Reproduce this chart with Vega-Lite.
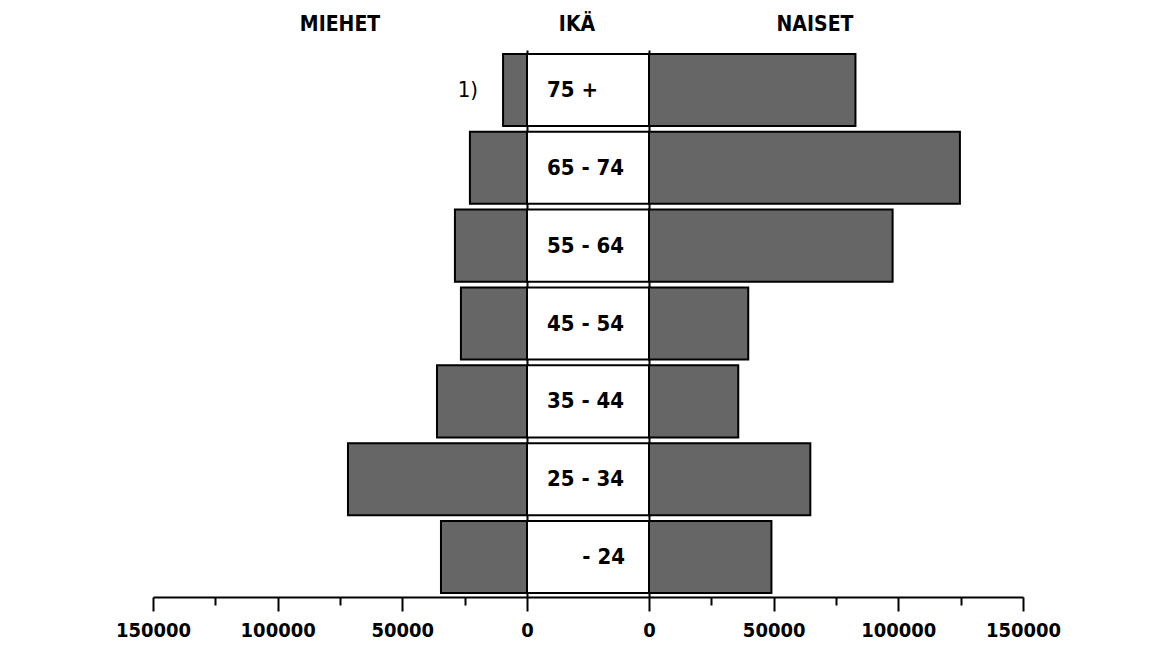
{
  "$schema": "https://vega.github.io/schema/vega-lite/v6.json",
  "background": "white",
  "padding": {"left": 115, "top": 14, "right": 0, "bottom": 0},
  "bounds": "flush",
  "spacing": 0,
  "config": {
    "view": {"stroke": null},
    "font": "DejaVu Sans Condensed, Liberation Sans Narrow, Liberation Sans, sans-serif",
    "axis": {
      "domainColor": "black", "domainWidth": 2, "tickColor": "black", "tickWidth": 2,
      "labelColor": "black", "labelFont": "DejaVu Sans Condensed, Liberation Sans Narrow, Liberation Sans, sans-serif", "labelFontSize": 20,
      "labelFontWeight": "bold", "grid": false, "title": null, "labelFlush": false, "labelOverlap": false
    },
    "title": {"font": "DejaVu Sans Condensed, Liberation Sans Narrow, Liberation Sans, sans-serif", "fontSize": 21, "fontWeight": "bold", "color": "black", "offset": 15},
    "text": {"font": "DejaVu Sans Condensed, Liberation Sans Narrow, Liberation Sans, sans-serif", "color": "black"}
  },
  "data": {
    "values": [
      {"age": "75 +", "men": 9600, "women": 82800, "note": "1)"},
      {"age": "65 - 74", "men": 22900, "women": 124700, "note": ""},
      {"age": "55 - 64", "men": 28900, "women": 97700, "note": ""},
      {"age": "45 - 54", "men": 26500, "women": 39800, "note": ""},
      {"age": "35 - 44", "men": 36100, "women": 35800, "note": ""},
      {"age": "25 - 34", "men": 71800, "women": 64700, "note": ""},
      {"age": "- 24", "men": 34500, "women": 49100, "note": ""}
    ]
  },
  "hconcat": [
    {
      "width": 374, "height": 547,
      "title": {"text": "MIEHET"},
      "layer": [
        {
          "mark": {"type": "bar", "fill": "#666666", "stroke": "black", "strokeWidth": 2},
          "encoding": {
            "y": {"field": "age", "type": "nominal", "sort": null,
                  "scale": {"paddingInner": 0.075, "paddingOuter": 0.05},
                  "axis": {"orient": "right", "labels": false, "ticks": false, "domain": true}},
            "x": {"field": "men", "type": "quantitative",
                  "scale": {"domain": [0, 150000], "reverse": true, "nice": false},
                  "axis": {"values": [0, 25000, 50000, 75000, 100000, 125000, 150000], "format": "d",
                           "labelExpr": "datum.value % 50000 == 0 ? datum.label : ''",
                           "tickSize": {"condition": {"test": "datum.value % 50000 == 0", "value": 14}, "value": 8},
                           "labelPadding": 9}}
          }
        },
        {
          "mark": {"type": "text", "align": "right", "baseline": "middle", "dx": -25, "fontSize": 22},
          "encoding": {
            "y": {"field": "age", "type": "nominal", "sort": null},
            "x": {"field": "men", "type": "quantitative"},
            "text": {"field": "note"}
          }
        }
      ]
    },
    {
      "width": 122, "height": 547,
      "title": {"text": "IKÄ", "dx": -11},
      "layer": [
        {
          "mark": {"type": "bar", "fill": "white", "stroke": "black", "strokeWidth": 2},
          "encoding": {
            "y": {"field": "age", "type": "nominal", "sort": null,
                  "scale": {"paddingInner": 0.075, "paddingOuter": 0.05}, "axis": null},
            "x": {"datum": 0, "type": "quantitative", "scale": {"domain": [0, 1], "nice": false},
                  "axis": {"labels": false, "ticks": false, "domain": true}},
            "x2": {"datum": 1}
          }
        },
        {
          "transform": [{"filter": "datum.age != '- 24'"}],
          "mark": {"type": "text", "align": "left", "baseline": "middle", "fontSize": 22, "fontWeight": "bold"},
          "encoding": {
            "y": {"field": "age", "type": "nominal", "sort": null},
            "x": {"value": 20},
            "text": {"field": "age"}
          }
        },
        {
          "transform": [{"filter": "datum.age == '- 24'"}],
          "mark": {"type": "text", "align": "right", "baseline": "middle", "fontSize": 22, "fontWeight": "bold"},
          "encoding": {
            "y": {"field": "age", "type": "nominal", "sort": null},
            "x": {"value": 98},
            "text": {"field": "age"}
          }
        }
      ]
    },
    {
      "width": 374, "height": 547,
      "title": {"text": "NAISET", "dx": -21},
      "layer": [
        {
          "mark": {"type": "bar", "fill": "#666666", "stroke": "black", "strokeWidth": 2},
          "encoding": {
            "y": {"field": "age", "type": "nominal", "sort": null,
                  "scale": {"paddingInner": 0.075, "paddingOuter": 0.05},
                  "axis": {"orient": "left", "labels": false, "ticks": false, "domain": true}},
            "x": {"field": "women", "type": "quantitative",
                  "scale": {"domain": [0, 150000], "nice": false},
                  "axis": {"values": [0, 25000, 50000, 75000, 100000, 125000, 150000], "format": "d",
                           "labelExpr": "datum.value % 50000 == 0 ? datum.label : ''",
                           "tickSize": {"condition": {"test": "datum.value % 50000 == 0", "value": 14}, "value": 8},
                           "labelPadding": 9}}
          }
        }
      ]
    }
  ]
}
